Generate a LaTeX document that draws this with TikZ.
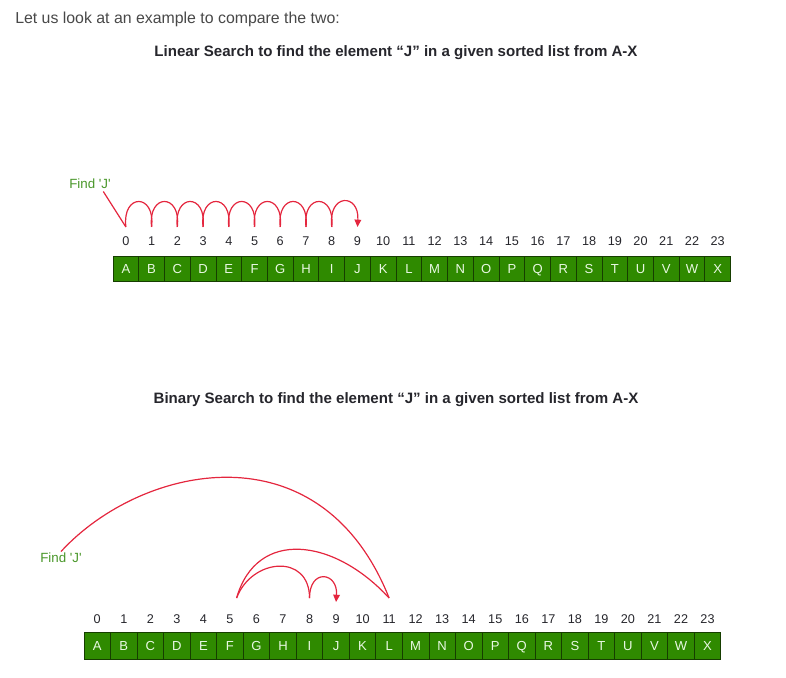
\documentclass[tikz,border=0pt]{standalone}
\usepackage{fontspec}
\setmainfont{Liberation Sans}
\usetikzlibrary{arrows.meta, positioning, calc}
\definecolor{cellGreen}{RGB}{47,138,0}
\definecolor{cellEdge}{RGB}{22,62,0}
\definecolor{cellText}{RGB}{232,248,226}
\definecolor{findGreen}{RGB}{72,150,40}
\definecolor{jumpRed}{RGB}{228,38,62}
\definecolor{darkText}{RGB}{38,38,44}
\definecolor{introGray}{RGB}{72,72,72}
\newcommand{\findJ}{Find \textquotesingle J\textquotesingle}
\tikzset{
    lincell/.style={
        rectangle,
        draw=cellEdge,
        line width=0.6pt,
        fill=cellGreen,
        outer sep=0pt,
        inner sep=0pt,
        minimum width=19.3pt,
        minimum height=18.8pt,
        text height=7pt,
        text depth=0pt,
        text=cellText,
        font=\fontsize{9.8}{11}\selectfont
    },
    bincell/.style={
        lincell,
        minimum width=19.9pt,
        minimum height=20.2pt
    },
    idxlabel/.style={inner sep=0pt, text=darkText, font=\fontsize{9.5}{11}\selectfont},
    findlabel/.style={inner sep=1pt, text=findGreen, font=\fontsize{10}{12}\selectfont},
    titletext/.style={inner sep=0pt, text=darkText, font=\bfseries\fontsize{11.3}{14}\selectfont},
    introtext/.style={inner sep=0pt, text=introGray, font=\fontsize{11.9}{14}\selectfont},
    jumpline/.style={draw=jumpRed, line width=0.9pt},
    jumptip/.style={-{Triangle[length=5.5pt,width=5pt]}}
}

\begin{document}
\begin{tikzpicture}[x=0.75pt, y=-0.75pt]
    \useasboundingbox (0,0) rectangle (786,678);
    \node[introtext, anchor=west] (intro) at (15,19) {Let us look at an example to compare the two:};

    % linear search
    \node[titletext] (lintitle) at (396,53) {Linear Search to find the element “J” in a given sorted list from A-X};
    \node[lincell, anchor=west] (lin0) at (113,268.5) {A};
    \foreach \l [count=\i from 1, remember=\i as \prev (initially 0)] in {B,...,X}
        \node[lincell, right=0pt of lin\prev] (lin\i) {\l};
    \foreach \i in {0,...,23} {
        \node[idxlabel] (linidx\i) at ($(lin\i.north)+(0,-15)$) {\i};
        \coordinate (linpt\i) at ($(lin\i.north)+(0,-29)$);
    }
    \node[findlabel] (linfind) at (90,184) {\findJ};
    \draw[jumpline] ($(linfind.south east)+(-9,1)$) -- (linpt0);
    \foreach \i [count=\j from 1] in {0,...,7}
        \draw[jumpline] (linpt\i) .. controls +(-4,-34) and +(4,-34) .. (linpt\j);
    \draw[jumpline, jumptip] (linpt8) .. controls +(-4,-34) and +(2,-34) .. (linpt9);

    % binary search
    \node[titletext] (bintitle) at (396,400) {Binary Search to find the element “J” in a given sorted list from A-X};
    \node[bincell, anchor=west] (bin0) at (84,645.5) {A};
    \foreach \l [count=\i from 1, remember=\i as \prev (initially 0)] in {B,...,X}
        \node[bincell, right=0pt of bin\prev] (bin\i) {\l};
    \foreach \i in {0,...,23} {
        \node[idxlabel] (binidx\i) at ($(bin\i.north)+(0,-13)$) {\i};
        \coordinate (binpt\i) at ($(bin\i.north)+(0,-34)$);
    }
    \node[findlabel] (binfind) at (61,558) {\findJ};
    \draw[jumpline] (binfind.north) .. controls +(80,-87) and +(-69,-173) .. (binpt11);
    \draw[jumpline] (binpt11) .. controls +(-55,-60) and +(20,-70) .. ([xshift=5pt]binpt5);
    \draw[jumpline] ([xshift=5pt]binpt5) .. controls +(15,-40) and +(0,-45) .. (binpt8);
    \draw[jumpline, jumptip] (binpt8) .. controls +(0,-30) and +(2,-30) .. ([yshift=-3pt]binpt9);
\end{tikzpicture}
\end{document}
